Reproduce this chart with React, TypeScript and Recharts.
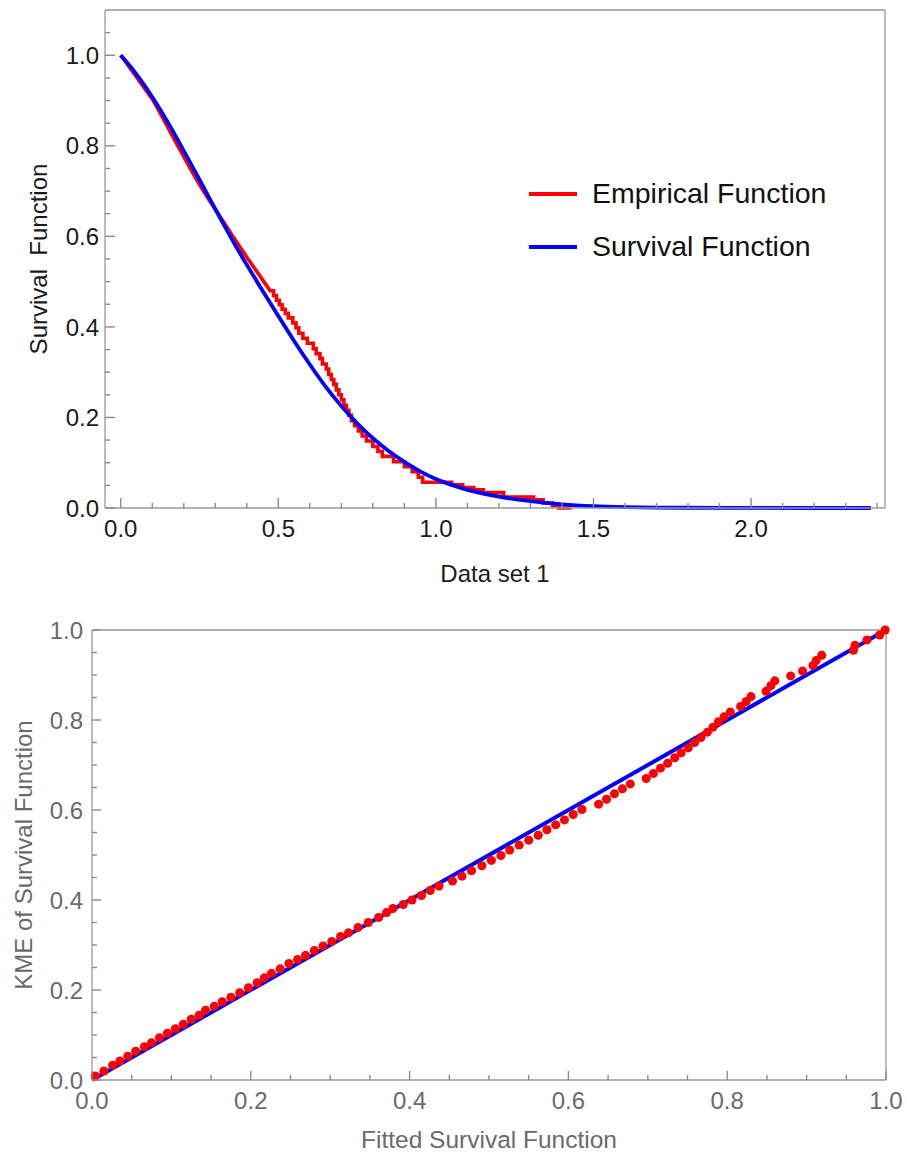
import { ComposedChart, Line, Scatter, XAxis, YAxis, Legend, Label } from 'recharts';

const FONT = '"Liberation Sans", Arial, Helvetica, sans-serif';

// fitted survival function (blue curve), data set 1
const survX = [0, 0.05, 0.1, 0.15, 0.2, 0.25, 0.3, 0.35, 0.4, 0.45, 0.5, 0.55, 0.6, 0.65, 0.7, 0.75, 0.8, 0.85, 0.9, 0.95, 1.0, 1.05, 1.1, 1.2, 1.3, 1.4, 1.5, 1.6, 1.7, 1.8, 2.0, 2.2, 2.38];
const survY = [1.0, 0.958, 0.908, 0.851, 0.789, 0.725, 0.66, 0.597, 0.537, 0.48, 0.424, 0.369, 0.317, 0.268, 0.225, 0.187, 0.154, 0.126, 0.102, 0.081, 0.064, 0.051, 0.04, 0.025, 0.015, 0.008, 0.004, 0.002, 0.001, 0.0005, 0.0001, 0, 0];

// empirical survival function (red): dense early part, where the steps are too small to see
const empSmoothX = [0, 0.012, 0.03, 0.05, 0.07, 0.09, 0.103, 0.12, 0.14, 0.16, 0.181, 0.2, 0.22, 0.24, 0.26, 0.28, 0.3, 0.33, 0.356, 0.38, 0.4, 0.42, 0.44, 0.46, 0.474];
const empSmoothY = [1.0, 0.989, 0.971, 0.952, 0.932, 0.913, 0.9, 0.879, 0.853, 0.827, 0.8, 0.776, 0.751, 0.726, 0.703, 0.681, 0.66, 0.628, 0.6, 0.575, 0.554, 0.534, 0.514, 0.494, 0.48];
// ...then visible steps: jump time and the value after the jump
const stepX = [0.485, 0.494, 0.503, 0.512, 0.522, 0.532, 0.546, 0.556, 0.565, 0.578, 0.592, 0.611, 0.62, 0.632, 0.64, 0.652, 0.66, 0.668, 0.676, 0.684, 0.692, 0.7, 0.708, 0.716, 0.724, 0.732, 0.742, 0.754, 0.766, 0.78, 0.8, 0.816, 0.83, 0.866, 0.9, 0.925, 0.944, 0.958, 1.05, 1.085, 1.12, 1.15, 1.215, 1.31, 1.34, 1.37, 1.39];
const stepY = [0.469, 0.459, 0.449, 0.439, 0.43, 0.42, 0.409, 0.398, 0.386, 0.375, 0.364, 0.352, 0.341, 0.33, 0.318, 0.307, 0.295, 0.284, 0.273, 0.261, 0.25, 0.239, 0.227, 0.216, 0.205, 0.193, 0.182, 0.17, 0.159, 0.148, 0.136, 0.125, 0.114, 0.102, 0.091, 0.08, 0.068, 0.057, 0.051, 0.045, 0.04, 0.034, 0.024, 0.018, 0.011, 0.005, 0];
const empEndX = 1.43;

// P-P plot: fitted survival vs Kaplan-Meier estimate
const ppFitted = [0.004, 0.015, 0.026, 0.035, 0.045, 0.055, 0.066, 0.075, 0.085, 0.095, 0.105, 0.115, 0.125, 0.135, 0.143, 0.154, 0.164, 0.175, 0.186, 0.197, 0.208, 0.217, 0.226, 0.237, 0.248, 0.259, 0.269, 0.28, 0.291, 0.302, 0.313, 0.323, 0.335, 0.348, 0.361, 0.371, 0.379, 0.392, 0.403, 0.415, 0.426, 0.437, 0.454, 0.466, 0.478, 0.491, 0.503, 0.515, 0.526, 0.538, 0.55, 0.562, 0.573, 0.584, 0.595, 0.606, 0.617, 0.638, 0.648, 0.658, 0.668, 0.678, 0.698, 0.707, 0.716, 0.725, 0.734, 0.742, 0.751, 0.759, 0.767, 0.775, 0.782, 0.789, 0.796, 0.804, 0.817, 0.824, 0.83, 0.849, 0.855, 0.86, 0.88, 0.895, 0.908, 0.912, 0.919, 0.959, 0.961, 0.976, 0.992, 0.999];
const ppKme = [0.009, 0.02, 0.033, 0.042, 0.053, 0.064, 0.074, 0.083, 0.094, 0.104, 0.114, 0.124, 0.135, 0.144, 0.155, 0.164, 0.174, 0.184, 0.194, 0.205, 0.216, 0.227, 0.237, 0.247, 0.259, 0.268, 0.277, 0.288, 0.298, 0.308, 0.319, 0.327, 0.339, 0.35, 0.361, 0.372, 0.381, 0.39, 0.4, 0.41, 0.421, 0.431, 0.442, 0.453, 0.465, 0.476, 0.488, 0.499, 0.511, 0.522, 0.533, 0.544, 0.556, 0.567, 0.578, 0.59, 0.601, 0.613, 0.624, 0.636, 0.647, 0.658, 0.67, 0.681, 0.693, 0.704, 0.716, 0.727, 0.738, 0.75, 0.761, 0.773, 0.784, 0.796, 0.807, 0.818, 0.83, 0.841, 0.852, 0.864, 0.876, 0.887, 0.898, 0.909, 0.921, 0.932, 0.944, 0.955, 0.966, 0.978, 0.989, 1.0];
const diagX = [0, 1];
const diagY = [0, 1];

// tick positions
const topXMajor = [0, 0.5, 1.0, 1.5, 2.0];
const topXMinor = [0.1, 0.2, 0.3, 0.4, 0.6, 0.7, 0.8, 0.9, 1.1, 1.2, 1.3, 1.4, 1.6, 1.7, 1.8, 1.9, 2.1, 2.2, 2.3, 2.4];
const topYMajor = [0, 0.2, 0.4, 0.6, 0.8, 1.0];
const topYMinor = [0.05, 0.1, 0.15, 0.25, 0.3, 0.35, 0.45, 0.5, 0.55, 0.65, 0.7, 0.75, 0.85, 0.9, 0.95, 1.05];
const ppMajor = [0, 0.2, 0.4, 0.6, 0.8, 1.0];
const ppMinor = [0.05, 0.1, 0.15, 0.25, 0.3, 0.35, 0.45, 0.5, 0.55, 0.65, 0.7, 0.75, 0.85, 0.9, 0.95];

const survData = survX.map((x, i) => ({ x, y: survY[i] }));

// path vertices of the empirical function: smooth part, then horizontal + vertical per step
const empData: { x: number; y: number }[] = empSmoothX.map((x, i) => ({ x, y: empSmoothY[i] }));
stepX.forEach((x, i) => {
  const prev = empData[empData.length - 1].y;
  empData.push({ x, y: prev });
  empData.push({ x, y: stepY[i] });
});
empData.push({ x: empEndX, y: stepY[stepY.length - 1] });

const ppData = ppFitted.map((x, i) => ({ x, y: ppKme[i] }));
const diagData = diagX.map((x, i) => ({ x, y: diagY[i] }));

type Side = 'bottom' | 'left' | 'top' | 'right';

interface TickOpts {
  major: number[];
  majorLen: number;
  minorLen: number;
  tickColor: string;
  label?: boolean;
  labelColor?: string;
  gap?: number;
  fontSize?: number;
}

// inward frame ticks (Mathematica style), labels only on major ticks
function frameTick(side: Side, o: TickOpts) {
  return (props: any) => {
    const x = Number(props.x);
    const y = Number(props.y);
    const v = Number(props.payload.value);
    const isMajor = o.major.some((m) => Math.abs(m - v) < 1e-9);
    const len = isMajor ? o.majorLen : o.minorLen;
    let d = '';
    if (side === 'bottom') d = `M${x},${y}v${-len}`;
    if (side === 'top') d = `M${x},${y}v${len}`;
    if (side === 'left') d = `M${x},${y}h${len}`;
    if (side === 'right') d = `M${x},${y}h${-len}`;
    const showLabel = o.label && isMajor;
    return (
      <g className="frame-tick">
        <path d={d} stroke={o.tickColor} strokeWidth={1.4} fill="none" />
        {showLabel && side === 'bottom' && (
          <text x={x} y={y + (o.gap || 0)} textAnchor="middle" fill={o.labelColor} stroke="none" fontSize={o.fontSize} fontFamily={FONT}>
            {v.toFixed(1)}
          </text>
        )}
        {showLabel && side === 'left' && (
          <text x={x - (o.gap || 0)} y={y} dy="0.36em" textAnchor="end" fill={o.labelColor} stroke="none" fontSize={o.fontSize} fontFamily={FONT}>
            {v.toFixed(1)}
          </text>
        )}
      </g>
    );
  };
}

function renderLegend(props: any) {
  const items = props.payload || [];
  return (
    <div>
      {items.map((entry: any) => (
        <div key={entry.value} style={{ display: 'flex', alignItems: 'center', height: 53 }}>
          <svg width={48} height={6}>
            <line x1={0} y1={3} x2={48} y2={3} stroke={entry.color} strokeWidth={4} />
          </svg>
          <span style={{ marginLeft: 15, fontSize: 28.5, fontFamily: FONT, color: '#111' }}>{entry.value}</span>
        </div>
      ))}
    </div>
  );
}

const FRAME = '#999999';
const TICK = '#8a8a8a';
const TOP_TEXT = '#1a1a1a';
const PP_TEXT = '#6a6a6a';

function SurvivalChart() {
  const tx = { major: topXMajor, majorLen: 10, minorLen: 5, tickColor: TICK };
  const ty = { major: topYMajor, majorLen: 10, minorLen: 5, tickColor: TICK };
  const xTicks = [...topXMajor, ...topXMinor];
  const yTicks = [...topYMajor, ...topYMinor];
  const domX: [number, number] = [-0.05, 2.425];
  const domY: [number, number] = [0, 1.1];
  return (
    <ComposedChart width={907} height={600} margin={{ top: 9, right: 21, bottom: 0, left: 0 }}>
      <XAxis dataKey="x" type="number" domain={domX} ticks={xTicks} interval={0} height={92}
        tickSize={0} tickMargin={0} tickLine={false} axisLine={{ stroke: FRAME, strokeWidth: 1.3 }}
        tick={frameTick('bottom', { ...tx, label: true, labelColor: TOP_TEXT, gap: 29, fontSize: 24 })}>
        <Label value="Data set 1" position="insideBottom" offset={18} fill={TOP_TEXT} fontSize={24} fontFamily={FONT} />
      </XAxis>
      <XAxis xAxisId="top" orientation="top" dataKey="x" type="number" domain={domX} ticks={xTicks} interval={0} height={1}
        tickSize={0} tickMargin={0} tickLine={false} axisLine={{ stroke: FRAME, strokeWidth: 1.3 }}
        tick={frameTick('top', tx)} />
      <YAxis dataKey="y" type="number" domain={domY} ticks={yTicks} interval={0} width={105}
        tickSize={0} tickMargin={0} tickLine={false} axisLine={{ stroke: FRAME, strokeWidth: 1.3 }}
        tick={frameTick('left', { ...ty, label: true, labelColor: TOP_TEXT, gap: 6, fontSize: 24 })}>
        <Label value={'Survival\u00A0 Function'} position="insideLeft" angle={-90} offset={38}
          fill={TOP_TEXT} fontSize={24} fontFamily={FONT} style={{ textAnchor: 'middle' }} />
      </YAxis>
      <YAxis yAxisId="right" orientation="right" dataKey="y" type="number" domain={domY} ticks={yTicks} interval={0} width={1}
        tickSize={0} tickMargin={0} tickLine={false} axisLine={{ stroke: FRAME, strokeWidth: 1.3 }}
        tick={frameTick('right', ty)} />
      <Legend layout="vertical" align="center" verticalAlign="middle" content={renderLegend}
        wrapperStyle={{ left: 529, top: 167, width: 330, height: 106 }} />
      <Line name="Empirical Function" data={empData} dataKey="y" type="linear" stroke="#ff0000" strokeWidth={3.6}
        dot={false} activeDot={false} isAnimationActive={false} />
      <Line name="Survival Function" data={survData} dataKey="y" type="monotone" stroke="#0000ff" strokeWidth={3.8}
        dot={false} activeDot={false} isAnimationActive={false} />
    </ComposedChart>
  );
}

function PPChart() {
  const t = { major: ppMajor, majorLen: 9, minorLen: 5, tickColor: TICK };
  const ticks = [...ppMajor, ...ppMinor];
  const dom: [number, number] = [0, 1];
  return (
    <ComposedChart width={907} height={553} margin={{ top: 29, right: 20, bottom: 0, left: 0 }}>
      <XAxis dataKey="x" type="number" domain={dom} ticks={ticks} interval={0} height={73}
        tickSize={0} tickMargin={0} tickLine={false} axisLine={{ stroke: FRAME, strokeWidth: 1.3 }}
        tick={frameTick('bottom', { ...t, label: true, labelColor: PP_TEXT, gap: 29, fontSize: 24 })}>
        <Label value="Fitted Survival Function" position="insideBottom" offset={5} fill={PP_TEXT} fontSize={24.5} fontFamily={FONT} />
      </XAxis>
      <XAxis xAxisId="top" orientation="top" dataKey="x" type="number" domain={dom} ticks={ticks} interval={0} height={1}
        tickSize={0} tickMargin={0} tickLine={false} axisLine={{ stroke: FRAME, strokeWidth: 1.3 }}
        tick={frameTick('top', t)} />
      <YAxis dataKey="y" type="number" domain={dom} ticks={ticks} interval={0} width={92}
        tickSize={0} tickMargin={0} tickLine={false} axisLine={{ stroke: FRAME, strokeWidth: 1.3 }}
        tick={frameTick('left', { ...t, label: true, labelColor: PP_TEXT, gap: 9, fontSize: 24 })}>
        <Label value="KME of Survival Function" position="insideLeft" angle={-90} offset={23}
          fill={PP_TEXT} fontSize={24} fontFamily={FONT} style={{ textAnchor: 'middle' }} />
      </YAxis>
      <YAxis yAxisId="right" orientation="right" dataKey="y" type="number" domain={dom} ticks={ticks} interval={0} width={1}
        tickSize={0} tickMargin={0} tickLine={false} axisLine={{ stroke: FRAME, strokeWidth: 1.3 }}
        tick={frameTick('right', t)} />
      <Line data={diagData} dataKey="y" type="linear" stroke="#0000ff" strokeWidth={4}
        dot={false} activeDot={false} isAnimationActive={false} />
      <Scatter data={ppData} dataKey="y" fill="#ff0000" isAnimationActive={false} />
    </ComposedChart>
  );
}

export default function App() {
  return (
    <div style={{ position: 'absolute', left: 0, top: 0, width: 907, height: 1153, background: '#fff' }}>
      <div style={{ position: 'absolute', left: 0, top: 0 }}>
        <SurvivalChart />
      </div>
      <div style={{ position: 'absolute', left: 0, top: 600 }}>
        <PPChart />
      </div>
    </div>
  );
}
